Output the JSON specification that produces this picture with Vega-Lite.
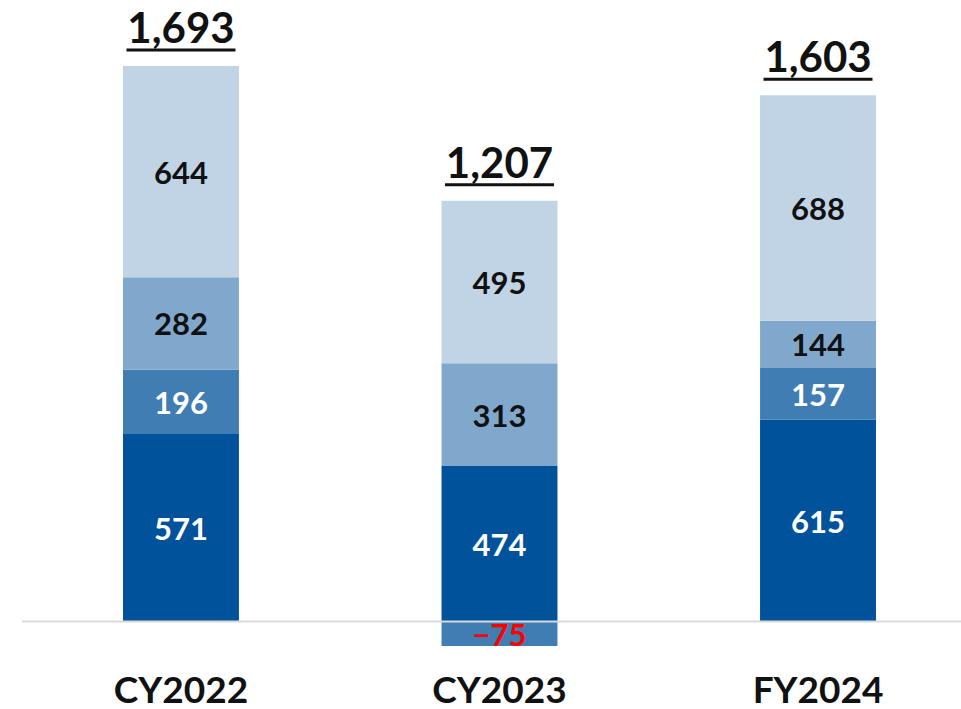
{
  "$schema": "https://vega.github.io/schema/vega-lite/v6.json",
  "width": 939,
  "height": 646,
  "autosize": {"type": "none"},
  "padding": {"left": 22, "top": 0, "right": 0, "bottom": 63},
  "background": "white",
  "config": {"view": {"stroke": null}, "font": "Lato"},
  "datasets": {
    "totals": [
      {"period": "CY2022", "total": 1693},
      {"period": "CY2023", "total": 1207},
      {"period": "FY2024", "total": 1603}
    ]
  },
  "data": {
    "values": [
      {"period": "CY2022", "series": "S1", "order": 1, "value": 571},
      {"period": "CY2022", "series": "S2", "order": 2, "value": 196},
      {"period": "CY2022", "series": "S3", "order": 3, "value": 282},
      {"period": "CY2022", "series": "S4", "order": 4, "value": 644},
      {"period": "CY2023", "series": "S1", "order": 1, "value": 474},
      {"period": "CY2023", "series": "S2", "order": 2, "value": -75},
      {"period": "CY2023", "series": "S3", "order": 3, "value": 313},
      {"period": "CY2023", "series": "S4", "order": 4, "value": 495},
      {"period": "FY2024", "series": "S1", "order": 1, "value": 615},
      {"period": "FY2024", "series": "S2", "order": 2, "value": 157},
      {"period": "FY2024", "series": "S3", "order": 3, "value": 144},
      {"period": "FY2024", "series": "S4", "order": 4, "value": 688}
    ]
  },
  "transform": [
    {"stack": "value", "groupby": ["period"], "sort": [{"field": "order", "order": "ascending"}], "as": ["v0", "v1"]},
    {"calculate": "(datum.v0 + datum.v1) / 2", "as": "mid"}
  ],
  "layer": [
    {
      "mark": {"type": "bar"},
      "encoding": {
        "x": {
          "field": "period", "type": "nominal", "sort": null,
          "scale": {"paddingInner": 0.636, "paddingOuter": 0.292, "align": 0.543},
          "axis": {"title": null, "domain": false, "ticks": false, "labelAngle": 0, "labelFontSize": 37, "labelFontWeight": "bold", "labelColor": "#111111", "labelPadding": 27, "labelFont": "Lato"}
        },
        "y": {"field": "v0", "type": "quantitative", "scale": {"domain": [-75, 1894], "nice": false, "zero": false}, "axis": null},
        "y2": {"field": "v1"},
        "color": {
          "field": "series", "type": "nominal", "legend": null,
          "scale": {"domain": ["S1", "S2", "S3", "S4"], "range": ["#00539B", "#3F7DB3", "#80A8CD", "#C1D4E6"]}
        }
      }
    },
    {
      "data": {"values": [{"z": 0}]},
      "transform": [],
      "mark": {"type": "rule", "color": "#d9d9d9", "strokeWidth": 2},
      "encoding": {"y": {"field": "z", "type": "quantitative"}}
    },
    {
      "mark": {"type": "text", "fontSize": 31, "fontWeight": "bold", "baseline": "middle", "align": "center", "dy": 3},
      "encoding": {
        "x": {"field": "period", "type": "nominal", "sort": null},
        "y": {"field": "mid", "type": "quantitative"},
        "text": {"field": "value", "type": "quantitative", "format": "d"},
        "color": {
          "condition": [
            {"test": "datum.value < 0", "value": "#ff0000"},
            {"test": "datum.series == 'S1' || datum.series == 'S2'", "value": "#ffffff"}
          ],
          "value": "#111111"
        }
      }
    },
    {
      "transform": [
        {"aggregate": [{"op": "max", "field": "v1", "as": "top"}], "groupby": ["period"]},
        {"lookup": "period", "from": {"data": {"name": "totals"}, "key": "period", "fields": ["total"]}}
      ],
      "layer": [
        {
          "mark": {"type": "text", "fontSize": 42, "fontWeight": "bold", "baseline": "alphabetic", "align": "center", "dy": -23, "color": "#111111"},
          "encoding": {
            "x": {"field": "period", "type": "nominal", "sort": null},
            "y": {"field": "top", "type": "quantitative"},
            "text": {"field": "total", "type": "quantitative", "format": ","}
          }
        },
        {
          "mark": {"type": "tick", "size": 109, "thickness": 3, "color": "#111111", "yOffset": -16, "opacity": 1},
          "encoding": {
            "x": {"field": "period", "type": "nominal", "sort": null},
            "y": {"field": "top", "type": "quantitative"}
          }
        }
      ]
    }
  ]
}
